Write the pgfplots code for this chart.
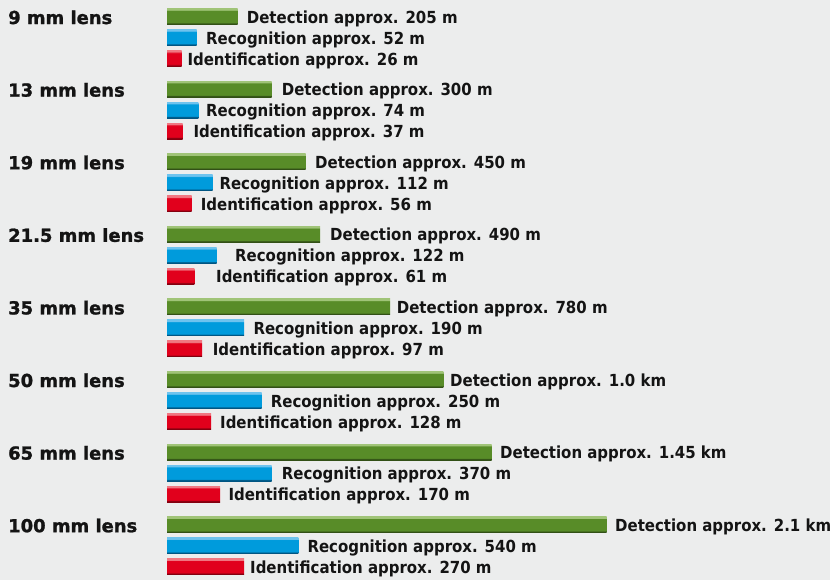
\documentclass[border=0pt]{standalone}
\usepackage{pgfplots}
\pgfplotsset{compat=1.18}
\usepackage{fontspec}
\setmainfont{DejaVu Sans}
\newfontfamily\lblfont{DejaVu Sans Condensed Bold}
\newfontfamily\lensfont{DejaVu Sans Bold}[FakeBold=1.3]
\definecolor{bg}{RGB}{236,237,237}
\definecolor{txt}{RGB}{20,20,20}
\definecolor{gdark}{RGB}{50,80,22}
\definecolor{gmain}{RGB}{88,140,40}
\definecolor{glight}{RGB}{160,196,120}
\definecolor{bdark}{RGB}{0,85,130}
\definecolor{bmain}{RGB}{0,155,220}
\definecolor{blight}{RGB}{110,195,238}
\definecolor{rdark}{RGB}{130,0,15}
\definecolor{rmain}{RGB}{225,0,28}
\definecolor{rlight}{RGB}{240,120,130}
\pgfdeclareverticalshading{greenbar}{100bp}{color(0bp)=(gdark); color(25bp)=(gdark); color(28bp)=(gdark); color(32bp)=(gmain); color(68bp)=(gmain); color(71bp)=(glight); color(75bp)=(glight); color(100bp)=(glight)}
\pgfdeclareverticalshading{bluebar}{100bp}{color(0bp)=(bdark); color(25bp)=(bdark); color(28bp)=(bdark); color(32bp)=(bmain); color(68bp)=(bmain); color(71bp)=(blight); color(75bp)=(blight); color(100bp)=(blight)}
\pgfdeclareverticalshading{redbar}{100bp}{color(0bp)=(rdark); color(25bp)=(rdark); color(28bp)=(rdark); color(32bp)=(rmain); color(68bp)=(rmain); color(71bp)=(rlight); color(75bp)=(rlight); color(100bp)=(rlight)}
\newcommand{\lbl}[3]{\node[anchor=base west, inner sep=0pt, font=\lblfont\fontsize{16.7}{18}\selectfont, text=txt] at (axis cs:#1,#2) {#3};}
\newcommand{\lens}[2]{\node[anchor=base west, inner sep=0pt, font=\lensfont\fontsize{18}{20}\selectfont, text=txt] at (axis cs:-159,#1) {#2};}
\newcommand{\hb}[3]{\addplot[xbar, bar shift=0pt, bar width=16, draw=none, shading=#1] coordinates {(#2,#3)};}
\begin{document}
\begin{tikzpicture}
\fill[bg] (0,0) rectangle (830bp,580bp);
\path[use as bounding box] (0,0) rectangle (830bp,580bp);
\begin{axis}[at={(0,0)}, anchor=south west, width=830bp, height=580bp, scale only axis, hide axis,
  xmin=-167, xmax=663, ymin=0, ymax=580, y dir=reverse, clip=false]
% Detection
\hb{greenbar}{70.7}{16.5}
\hb{greenbar}{104.7}{89.1}
\hb{greenbar}{138.7}{161.7}
\hb{greenbar}{153}{234.3}
\hb{greenbar}{223}{306.9}
\hb{greenbar}{276.3}{379.5}
\hb{greenbar}{324.7}{452.1}
\hb{greenbar}{439.7}{524.7}
% Recognition
\hb{bluebar}{29.7}{37.5}
\hb{bluebar}{31.3}{110.1}
\hb{bluebar}{45.7}{182.7}
\hb{bluebar}{49.7}{255.3}
\hb{bluebar}{77}{327.9}
\hb{bluebar}{94.7}{400.5}
\hb{bluebar}{104.7}{473.1}
\hb{bluebar}{131.3}{545.7}
% Identification
\hb{redbar}{14.7}{58.5}
\hb{redbar}{15.7}{131.1}
\hb{redbar}{24.7}{203.7}
\hb{redbar}{27.3}{276.3}
\hb{redbar}{35}{348.9}
\hb{redbar}{44}{421.5}
\hb{redbar}{53}{494.1}
\hb{redbar}{77}{566.7}
\lens{24}{9 mm lens}
\lens{96.6}{13 mm lens}
\lens{169.2}{19 mm lens}
\lens{241.8}{21.5 mm lens}
\lens{314.4}{35 mm lens}
\lens{387}{50 mm lens}
\lens{459.6}{65 mm lens}
\lens{532.2}{100 mm lens}
\lbl{79.7}{23}{Detection approx. 205 m}
\lbl{114.7}{95.6}{Detection approx. 300 m}
\lbl{148}{168.2}{Detection approx. 450 m}
\lbl{163}{240.8}{Detection approx. 490 m}
\lbl{229.7}{313.4}{Detection approx. 780 m}
\lbl{283}{386}{Detection approx. 1.0 km}
\lbl{333}{458.6}{Detection approx. 1.45 km}
\lbl{448}{531.2}{Detection approx. 2.1 km}
\lbl{39}{44}{Recognition approx. 52 m}
\lbl{39}{116.6}{Recognition approx. 74 m}
\lbl{52.3}{189.2}{Recognition approx. 112 m}
\lbl{68}{261.8}{Recognition approx. 122 m}
\lbl{86.3}{334.4}{Recognition approx. 190 m}
\lbl{103.7}{407}{Recognition approx. 250 m}
\lbl{114.7}{479.6}{Recognition approx. 370 m}
\lbl{140.3}{552.2}{Recognition approx. 540 m}
\lbl{20.3}{65}{Identification approx. 26 m}
\lbl{26.3}{137.6}{Identification approx. 37 m}
\lbl{33.7}{210.2}{Identification approx. 56 m}
\lbl{49}{282.8}{Identification approx. 61 m}
\lbl{45.7}{355.4}{Identification approx. 97 m}
\lbl{53}{428}{Identification approx. 128 m}
\lbl{61.3}{500.6}{Identification approx. 170 m}
\lbl{83}{573.2}{Identification approx. 270 m}
\end{axis}
\end{tikzpicture}
\end{document}
